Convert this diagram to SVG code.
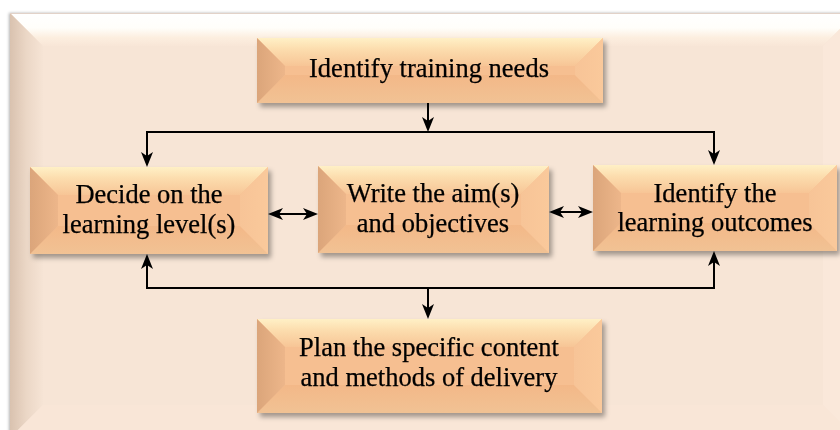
<svg xmlns="http://www.w3.org/2000/svg" width="840" height="430" viewBox="0 0 840 430">
<defs>
<linearGradient id="pTop" x1="0" y1="0" x2="0" y2="1">
<stop offset="0" stop-color="#FFFFFF"/><stop offset="0.45" stop-color="#FFFEFA"/><stop offset="0.75" stop-color="#FCEEDF"/><stop offset="1" stop-color="#F8E6D7"/>
</linearGradient>
<linearGradient id="pLeft" x1="0" y1="0" x2="1" y2="0">
<stop offset="0" stop-color="#D9C2AF"/><stop offset="0.5" stop-color="#EBD7C6"/><stop offset="1" stop-color="#F6E4D5"/>
</linearGradient>
<linearGradient id="bTop" x1="0" y1="0" x2="0" y2="1">
<stop offset="0" stop-color="#FFF0C6"/><stop offset="0.4" stop-color="#FCDDAE"/><stop offset="1" stop-color="#F7C596"/>
</linearGradient>
<linearGradient id="bLeft" x1="0" y1="0" x2="1" y2="0">
<stop offset="0" stop-color="#DBA57A"/><stop offset="1" stop-color="#EDB68A"/>
</linearGradient>
<linearGradient id="bRight" x1="0" y1="0" x2="1" y2="0">
<stop offset="0" stop-color="#F7C497"/><stop offset="1" stop-color="#FAC99B"/>
</linearGradient>
<linearGradient id="bBot" x1="0" y1="0" x2="0" y2="1">
<stop offset="0" stop-color="#F3B888"/><stop offset="1" stop-color="#F1C294"/>
</linearGradient>
<filter id="sh" x="-10%" y="-20%" width="125%" height="150%">
<feDropShadow dx="3" dy="4" stdDeviation="2.5" flood-color="#000" flood-opacity="0.35"/>
</filter>
<filter id="psh" x="-5%" y="-5%" width="110%" height="110%">
<feDropShadow dx="-1" dy="0" stdDeviation="1.5" flood-color="#000" flood-opacity="0.3"/>
</filter>
<path id="ahd" d="M0,0 L-15,-6 L-11,0 L-15,6 z" fill="#000"/>
<style>
.bt{fill:url(#bTop)}.bl{fill:url(#bLeft)}.br{fill:url(#bRight)}.bb{fill:url(#bBot)}.bf{fill:#F6BF91}
.box{filter:url(#sh)}
.lbl{font-family:"Liberation Serif","Times New Roman",serif;font-size:26.5px;fill:#000;stroke:#000;stroke-width:0.25;text-anchor:middle}
.cn{fill:none;stroke:#000;stroke-width:2}
</style>
</defs>

<g id="panel" filter="url(#psh)">
<rect x="10" y="13" width="846" height="425" fill="#F7E5D6"/>
<polygon points="10,13 856,13 823,46 43,46" fill="url(#pTop)"/>
<polygon points="10,13 43,46 43,405 10,438" fill="url(#pLeft)"/>
<polygon points="856,13 856,438 823,405 823,46" fill="#FAE8DA"/>
<polygon points="10,438 856,438 823,405 43,405" fill="#F9E6D7"/>
<line x1="10" y1="13.5" x2="856" y2="13.5" stroke="#E2D2C8" stroke-width="1"/>
</g>

<g id="connectors">
<path class="cn" d="M428,103 V122"/>
<path class="cn" d="M146,132 H715"/>
<path class="cn" d="M147,131 V157"/>
<path class="cn" d="M714,131 V155"/>
<path class="cn" d="M146,288 H715"/>
<path class="cn" d="M147,289 V264"/>
<path class="cn" d="M714,289 V261"/>
<path class="cn" d="M428,288 V309"/>
<path class="cn" d="M278,214 H308"/>
<path class="cn" d="M559,212 H583"/>
<use href="#ahd" transform="translate(428,132) rotate(90)"/>
<use href="#ahd" transform="translate(147,167) rotate(90)"/>
<use href="#ahd" transform="translate(714,165) rotate(90)"/>
<use href="#ahd" transform="translate(147,254) rotate(-90)"/>
<use href="#ahd" transform="translate(714,251) rotate(-90)"/>
<use href="#ahd" transform="translate(428,319) rotate(90)"/>
<use href="#ahd" transform="translate(268,214) rotate(180)"/>
<use href="#ahd" transform="translate(318,214)"/>
<use href="#ahd" transform="translate(549,212) rotate(180)"/>
<use href="#ahd" transform="translate(593,212)"/>
</g>

<g id="n1" class="box">
<rect class="bf" x="257" y="38" width="346" height="65"/>
<polygon class="bt" points="257,38 603,38 575,66 285,66"/>
<polygon class="bb" points="257,103 603,103 575,75 285,75"/>
<polygon class="bl" points="257,38 285,66 285,75 257,103"/>
<polygon class="br" points="603,38 575,66 575,75 603,103"/>
<text class="lbl" x="429" y="77">Identify training needs</text>
</g>

<g id="n2" class="box">
<rect class="bf" x="30" y="167" width="238" height="87"/>
<polygon class="bt" points="30,167 268,167 240,195 58,195"/>
<polygon class="bb" points="30,254 268,254 240,226 58,226"/>
<polygon class="bl" points="30,167 58,195 58,226 30,254"/>
<polygon class="br" points="268,167 240,195 240,226 268,254"/>
<text class="lbl" x="149" y="203">Decide on the</text>
<text class="lbl" x="149" y="233">learning level(s)</text>
</g>

<g id="n3" class="box">
<rect class="bf" x="318" y="166" width="231" height="87"/>
<polygon class="bt" points="318,166 549,166 521,194 346,194"/>
<polygon class="bb" points="318,253 549,253 521,225 346,225"/>
<polygon class="bl" points="318,166 346,194 346,225 318,253"/>
<polygon class="br" points="549,166 521,194 521,225 549,253"/>
<text class="lbl" x="433" y="202">Write the aim(s)</text>
<text class="lbl" x="433" y="232">and objectives</text>
</g>

<g id="n4" class="box">
<rect class="bf" x="593" y="165" width="244" height="86"/>
<polygon class="bt" points="593,165 837,165 809,193 621,193"/>
<polygon class="bb" points="593,251 837,251 809,223 621,223"/>
<polygon class="bl" points="593,165 621,193 621,223 593,251"/>
<polygon class="br" points="837,165 809,193 809,223 837,251"/>
<text class="lbl" x="715" y="202">Identify the</text>
<text class="lbl" x="715" y="231">learning outcomes</text>
</g>

<g id="n5" class="box">
<rect class="bf" x="257" y="319" width="345" height="94"/>
<polygon class="bt" points="257,319 602,319 574,347 285,347"/>
<polygon class="bb" points="257,413 602,413 574,385 285,385"/>
<polygon class="bl" points="257,319 285,347 285,385 257,413"/>
<polygon class="br" points="602,319 574,347 574,385 602,413"/>
<text class="lbl" x="429" y="356">Plan the specific content</text>
<text class="lbl" x="429" y="386">and methods of delivery</text>
</g>
</svg>
